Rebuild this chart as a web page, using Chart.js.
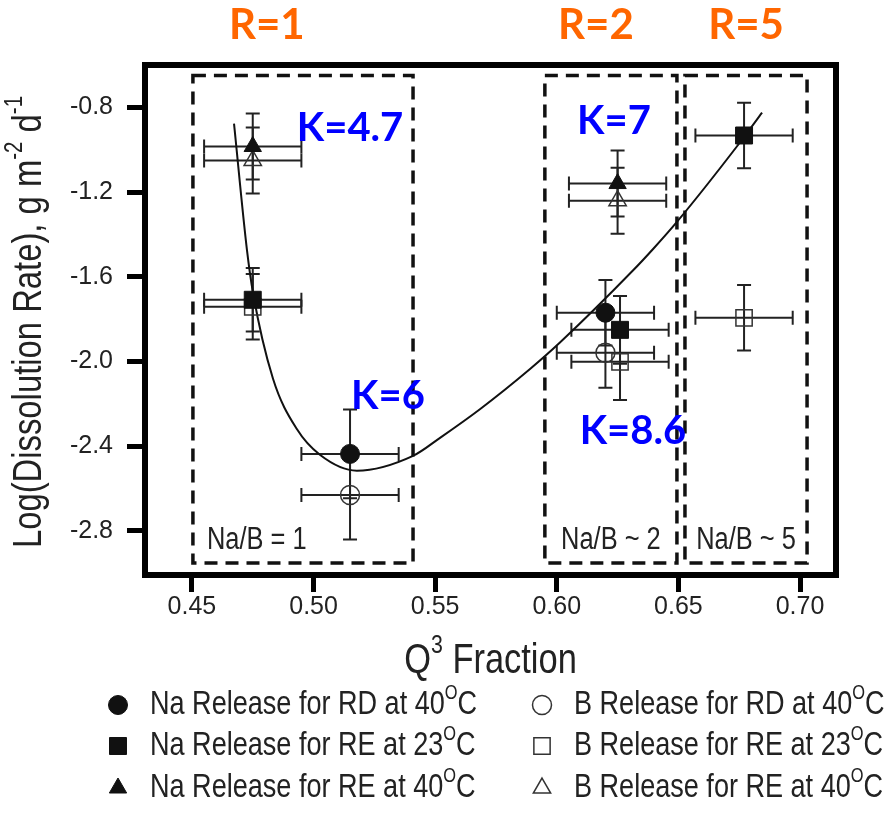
<!DOCTYPE html>
<html>
<head>
<meta charset="utf-8">
<script src="https://cdn.jsdelivr.net/npm/chart.js@4.4.1/dist/chart.umd.min.js"></script>
<style>
  html, body { margin: 0; padding: 0; background: #fff; }
</style>
</head>
<body>
<canvas id="chart" width="888" height="814"></canvas>
<script>
// -------------------------------
// Data: Q3 fraction vs log dissolution rate
// -------------------------------
const xTicks = [0.45, 0.50, 0.55, 0.60, 0.65, 0.70];
const yTicks = [-0.8, -1.2, -1.6, -2.0, -2.4, -2.8];

// Q3 error is +/-0.02 on every point
const qErr = 0.02;

const naRD40_x = [0.515, 0.620];
const naRD40_y = [-2.436, -1.769];
const naRD40_err = [0.21, 0.155];

const naRE23_x = [0.475, 0.626, 0.677];
const naRE23_y = [-1.708, -1.850, -0.932];
const naRE23_err = [0.15, 0.16, 0.155];

const naRE40_x = [0.475, 0.625];
const naRE40_y = [-0.984, -1.159];
const naRE40_err = [0.156, 0.156];

const bRD40_x = [0.515, 0.620];
const bRD40_y = [-2.630, -1.958];
const bRD40_err = [0.21, 0.165];

const bRE23_x = [0.475, 0.626, 0.677];
const bRE23_y = [-1.741, -2.001, -1.793];
const bRE23_err = [0.155, 0.18, 0.155];

const bRE40_x = [0.475, 0.625];
const bRE40_y = [-1.050, -1.240];
const bRE40_err = [0.156, 0.156];

// fitted trend curve
const fitX = [0.4673, 0.4726, 0.4751, 0.4833, 0.4932, 0.5026, 0.5178, 0.5409, 0.5520,
              0.5684, 0.5890, 0.6013, 0.6313, 0.6396, 0.6494, 0.6753, 0.6844];
const fitY = [-0.876, -1.471, -1.675, -2.080, -2.320, -2.440, -2.515, -2.445, -2.360,
              -2.225, -2.035, -1.910, -1.570, -1.468, -1.340, -0.965, -0.824];

// Na/B composition regions
const regionLabels = ['Na/B = 1', 'Na/B ~ 2', 'Na/B ~ 5'];
const regionX0 = [0.4504, 0.5951, 0.6527];
const regionX1 = [0.5409, 0.6494, 0.7029];
const regionTop = -0.649;
const regionBottom = -2.951;

const rLabels = ['R=1', 'R=2', 'R=5'];
const rLabelX = [0.4808, 0.6161, 0.6778];

const kLabels = ['K=4.7', 'K=7', 'K=6', 'K=8.6'];
const kLabelX = [0.515, 0.6235, 0.5306, 0.6313];
const kLabelY = [-0.895, -0.866, -2.162, -2.327];

// -------------------------------
// Fonts
// -------------------------------
function hasFont(name) {
  const c = document.createElement('canvas').getContext('2d');
  c.font = '40px monospace';
  const a = c.measureText('Na Release 0.45').width;
  c.font = "40px '" + name + "', monospace";
  return c.measureText('Na Release 0.45').width !== a;
}
const narrow = hasFont('Liberation Sans Narrow');
const FONT = narrow ? "'Liberation Sans Narrow', sans-serif" : "'Liberation Sans', Arial, sans-serif";
const SQ = narrow ? 1 : 0.82;

function pts(xs, ys) {
  return xs.map((x, i) => ({ x: x, y: ys[i] }));
}

// text with superscript pieces, squeezed horizontally
function richText(ctx, parts, x, y, size, align) {
  const base = size + 'px ' + FONT;
  const sup = Math.round(size * 0.62) + 'px ' + FONT;
  let w = 0;
  parts.forEach(p => { ctx.font = p[1] ? sup : base; w += ctx.measureText(p[0]).width; });
  w *= SQ;
  const left = align === 'center' ? x - w / 2 : (align === 'right' ? x - w : x);
  ctx.save();
  ctx.translate(left, y);
  ctx.scale(SQ, 1);
  ctx.textAlign = 'left';
  ctx.textBaseline = 'middle';
  let px = 0;
  parts.forEach(p => {
    ctx.font = p[1] ? sup : base;
    ctx.fillText(p[0], px, p[1] ? -size * 0.36 : 0);
    px += ctx.measureText(p[0]).width;
  });
  ctx.restore();
}

// -------------------------------
// Datasets
// -------------------------------
const filled = { backgroundColor: '#111', borderColor: '#111', borderWidth: 1 };
const open = { backgroundColor: 'rgba(0,0,0,0)', borderColor: '#333', borderWidth: 1.5 };

const datasets = [
  Object.assign({ label: 'Na Release for RD at 40', data: pts(naRD40_x, naRD40_y), yErr: naRD40_err, pointStyle: 'circle', pointRadius: 9.5 }, filled),
  Object.assign({ label: 'Na Release for RE at 23', data: pts(naRE23_x, naRE23_y), yErr: naRE23_err, pointStyle: 'rect', pointRadius: 12 }, filled),
  Object.assign({ label: 'Na Release for RE at 40', data: pts(naRE40_x, naRE40_y), yErr: naRE40_err, pointStyle: 'triangle', pointRadius: 10 }, filled),
  Object.assign({ label: 'B Release for RD at 40', data: pts(bRD40_x, bRD40_y), yErr: bRD40_err, pointStyle: 'circle', pointRadius: 9.5 }, open),
  Object.assign({ label: 'B Release for RE at 23', data: pts(bRE23_x, bRE23_y), yErr: bRE23_err, pointStyle: 'rect', pointRadius: 11.5 }, open),
  Object.assign({ label: 'B Release for RE at 40', data: pts(bRE40_x, bRE40_y), yErr: bRE40_err, pointStyle: 'triangle', pointRadius: 10 }, open),
  {
    label: 'fit', data: pts(fitX, fitY), showLine: true, pointRadius: 0,
    borderColor: '#111', borderWidth: 2, cubicInterpolationMode: 'monotone', fill: false
  }
];

// -------------------------------
// Plugin: regions, error bars, frame, labels, legend
// -------------------------------
const decor = {
  id: 'decor',
  beforeDatasetsDraw(chart) {
    const ctx = chart.ctx, xs = chart.scales.x, ys = chart.scales.y;
    ctx.save();
    ctx.strokeStyle = '#111';
    ctx.lineWidth = 3.5;
    ctx.setLineDash([13, 8]);
    regionX0.forEach((x0, i) => {
      const l = xs.getPixelForValue(x0), r = xs.getPixelForValue(regionX1[i]);
      const t = ys.getPixelForValue(regionTop), b = ys.getPixelForValue(regionBottom);
      ctx.strokeRect(l, t, r - l, b - t);
    });
    ctx.restore();

    ctx.save();
    ctx.fillStyle = '#222';
    richText(ctx, [[regionLabels[0]]], xs.getPixelForValue(regionX0[0]) + 14, ys.getPixelForValue(regionBottom) - 22, 31, 'left');
    for (let i = 1; i < regionLabels.length; i++) {
      const c = (xs.getPixelForValue(regionX0[i]) + xs.getPixelForValue(regionX1[i])) / 2;
      richText(ctx, [[regionLabels[i]]], c, ys.getPixelForValue(regionBottom) - 22, 31, 'center');
    }
    ctx.restore();

    // error bars
    const cap = 7;
    ctx.save();
    ctx.strokeStyle = '#222';
    ctx.lineWidth = 2;
    chart.data.datasets.forEach(ds => {
      if (!ds.yErr) return;
      ds.data.forEach((p, i) => {
        const cx = xs.getPixelForValue(p.x), cy = ys.getPixelForValue(p.y);
        const xl = xs.getPixelForValue(p.x - qErr), xr = xs.getPixelForValue(p.x + qErr);
        const yt = ys.getPixelForValue(p.y + ds.yErr[i]), yb = ys.getPixelForValue(p.y - ds.yErr[i]);
        ctx.beginPath();
        ctx.moveTo(xl, cy); ctx.lineTo(xr, cy);
        ctx.moveTo(xl, cy - cap); ctx.lineTo(xl, cy + cap);
        ctx.moveTo(xr, cy - cap); ctx.lineTo(xr, cy + cap);
        ctx.moveTo(cx, yt); ctx.lineTo(cx, yb);
        ctx.moveTo(cx - cap, yt); ctx.lineTo(cx + cap, yt);
        ctx.moveTo(cx - cap, yb); ctx.lineTo(cx + cap, yb);
        ctx.stroke();
      });
    });
    ctx.restore();
  },
  afterDraw(chart) {
    const ctx = chart.ctx, a = chart.chartArea, xs = chart.scales.x, ys = chart.scales.y;

    // heavy frame
    ctx.save();
    ctx.strokeStyle = '#000';
    ctx.lineWidth = 6;
    ctx.strokeRect(a.left, a.top, a.right - a.left, a.bottom - a.top);
    ctx.restore();

    // R and K annotations
    ctx.save();
    ctx.textAlign = 'center';
    ctx.textBaseline = 'middle';
    ctx.fillStyle = '#ff6600';
    ctx.font = 'bold 42px Lato, sans-serif';
    rLabels.forEach((t, i) => ctx.fillText(t, xs.getPixelForValue(rLabelX[i]), 25));
    ctx.fillStyle = '#0000ff';
    ctx.font = 'bold 40px Lato, sans-serif';
    kLabels.forEach((t, i) => ctx.fillText(t, xs.getPixelForValue(kLabelX[i]), ys.getPixelForValue(kLabelY[i])));
    ctx.restore();

    // axis titles
    ctx.save();
    ctx.fillStyle = '#222';
    richText(ctx, [['Q'], ['3', true], [' Fraction']], (a.left + a.right) / 2, 661, 42, 'center');
    ctx.translate(30, 322);
    ctx.rotate(-Math.PI / 2);
    richText(ctx, [['Log(Dissolution Rate), g m'], ['-2', true], [' d'], ['-1', true]], 0, 0, 40, 'center');
    ctx.restore();

    // legend, two columns of three
    const colX = [118, 542], rowY = [705, 746, 788];
    ctx.save();
    chart.data.datasets.slice(0, 6).forEach((ds, i) => {
      const mx = colX[Math.floor(i / 3)], my = rowY[i % 3];
      ctx.fillStyle = ds.backgroundColor;
      ctx.strokeStyle = ds.borderColor;
      ctx.lineWidth = ds.borderWidth;
      Chart.helpers.drawPoint(ctx, { pointStyle: ds.pointStyle, radius: ds.pointRadius, rotation: 0, borderWidth: ds.borderWidth }, mx, my);
      ctx.fillStyle = '#222';
      richText(ctx, [[ds.label], ['O', true], ['C']], mx + 32, my, 33, 'left');
    });
    ctx.restore();
  }
};

// -------------------------------
// Chart
// -------------------------------
new Chart(document.getElementById('chart'), {
  type: 'scatter',
  data: { datasets: datasets },
  plugins: [decor],
  options: {
    responsive: false,
    animation: false,
    layout: { padding: { top: 65, right: 52, left: 0, bottom: 0 } },
    plugins: { legend: { display: false }, tooltip: { enabled: false } },
    scales: {
      x: {
        type: 'linear', min: 0.4307, max: 0.7148,
        afterBuildTicks: s => { s.ticks = xTicks.map(v => ({ value: v })); },
        afterFit: s => { s.height = 239; },
        grid: { drawOnChartArea: false, drawTicks: true, tickLength: 17, tickWidth: 5, tickColor: '#000' },
        border: { display: false },
        ticks: { color: '#222', font: { family: FONT, size: narrow ? 30 : 25 }, padding: 0, maxRotation: 0, autoSkip: false,
                 callback: v => v.toFixed(2) }
      },
      y: {
        type: 'linear', min: -3.008, max: -0.599,
        afterBuildTicks: s => { s.ticks = yTicks.map(v => ({ value: v })); },
        afterFit: s => { s.width = 145; },
        grid: { drawOnChartArea: false, drawTicks: true, tickLength: 18, tickWidth: 5, tickColor: '#000' },
        border: { display: false },
        ticks: { color: '#222', font: { family: FONT, size: narrow ? 30 : 25 }, padding: 14, autoSkip: false,
                 callback: v => v.toFixed(1) }
      }
    }
  }
});
</script>
</body>
</html>
